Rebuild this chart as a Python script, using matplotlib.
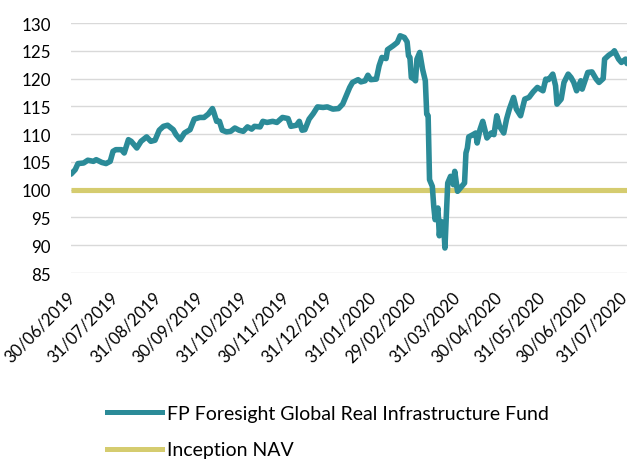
import matplotlib
matplotlib.use("Agg")
import matplotlib.pyplot as plt
import matplotlib.transforms as mtransforms
from matplotlib.lines import Line2D
import pandas as pd

# ---- data ----
fund_dates = [
    "2019-06-30", "2019-07-03", "2019-07-05", "2019-07-09", "2019-07-12", "2019-07-16",
    "2019-07-18", "2019-07-22", "2019-07-25", "2019-07-28", "2019-07-30", "2019-08-01",
    "2019-08-05", "2019-08-07", "2019-08-10", "2019-08-12", "2019-08-16", "2019-08-19",
    "2019-08-23", "2019-08-26", "2019-08-29", "2019-09-01", "2019-09-04", "2019-09-07",
    "2019-09-11", "2019-09-13", "2019-09-16", "2019-09-19", "2019-09-23", "2019-09-26",
    "2019-09-30", "2019-10-03", "2019-10-06", "2019-10-09", "2019-10-10", "2019-10-12",
    "2019-10-14", "2019-10-16", "2019-10-19", "2019-10-22", "2019-10-25", "2019-10-28",
    "2019-10-31", "2019-11-03", "2019-11-06", "2019-11-08", "2019-11-12", "2019-11-14",
    "2019-11-17", "2019-11-21", "2019-11-24", "2019-11-28", "2019-12-02", "2019-12-04",
    "2019-12-08", "2019-12-10", "2019-12-12", "2019-12-14", "2019-12-17", "2019-12-20",
    "2019-12-23", "2019-12-27", "2019-12-30", "2020-01-03", "2020-01-07", "2020-01-10",
    "2020-01-12", "2020-01-15", "2020-01-17", "2020-01-21", "2020-01-23", "2020-01-26",
    "2020-01-28", "2020-01-30", "2020-02-03", "2020-02-05", "2020-02-07", "2020-02-10",
    "2020-02-11", "2020-02-15", "2020-02-18", "2020-02-20", "2020-02-23", "2020-02-25",
    "2020-02-26", "2020-02-27", "2020-02-28", "2020-03-01", "2020-03-02", "2020-03-03",
    "2020-03-05", "2020-03-07", "2020-03-09", "2020-03-10", "2020-03-11", "2020-03-12",
    "2020-03-14", "2020-03-15", "2020-03-16", "2020-03-18", "2020-03-19", "2020-03-20",
    "2020-03-22", "2020-03-23", "2020-03-25", "2020-03-27", "2020-03-29", "2020-03-30",
    "2020-04-01", "2020-04-04", "2020-04-06", "2020-04-07", "2020-04-08", "2020-04-09",
    "2020-04-12", "2020-04-14", "2020-04-15", "2020-04-17", "2020-04-19", "2020-04-22",
    "2020-04-25", "2020-04-27", "2020-04-29", "2020-05-01", "2020-05-04", "2020-05-06",
    "2020-05-08", "2020-05-11", "2020-05-13", "2020-05-16", "2020-05-19", "2020-05-22",
    "2020-05-25", "2020-05-28", "2020-06-01", "2020-06-03", "2020-06-05", "2020-06-08",
    "2020-06-10", "2020-06-11", "2020-06-14", "2020-06-16", "2020-06-19", "2020-06-21",
    "2020-06-23", "2020-06-25", "2020-06-28", "2020-06-29", "2020-07-03", "2020-07-06",
    "2020-07-09", "2020-07-11", "2020-07-14", "2020-07-15", "2020-07-18", "2020-07-21",
    "2020-07-22", "2020-07-25", "2020-07-27", "2020-07-30", "2020-07-31",
]
fund_values = [
    102.8, 103.6, 104.7, 104.8, 105.3, 105.1,
    105.4, 104.9, 104.7, 105.1, 106.9, 107.2,
    107.2, 106.6, 109.0, 108.7, 107.5, 108.7,
    109.5, 108.7, 108.9, 110.7, 111.4, 111.6,
    110.8, 109.9, 109.0, 110.2, 110.8, 112.7,
    113.0, 113.0, 113.6, 114.6, 113.9, 112.3,
    112.3, 110.7, 110.4, 110.5, 111.1, 110.7,
    110.5, 111.3, 110.9, 111.4, 111.3, 112.3,
    112.1, 112.3, 112.1, 113.0, 112.8, 111.4,
    111.6, 112.3, 110.7, 110.8, 112.7, 113.7,
    114.9, 114.8, 114.9, 114.5, 114.6, 115.4,
    116.6, 118.4, 119.3, 119.8, 119.4, 119.6,
    120.6, 119.8, 119.9, 122.3, 123.8, 123.6,
    125.2, 125.9, 126.5, 127.7, 127.4, 126.6,
    124.1, 123.8, 120.2, 119.9, 119.6, 123.5,
    124.7, 121.7, 119.6, 113.6, 113.3, 101.8,
    100.6, 97.0, 94.6, 96.7, 91.7, 94.3,
    94.0, 89.5, 101.2, 102.4, 100.9, 103.3,
    99.7, 100.6, 101.2, 106.6, 107.5, 109.5,
    109.9, 110.2, 108.4, 110.8, 112.3, 109.3,
    110.2, 109.9, 113.3, 111.4, 110.2, 112.7,
    114.5, 116.6, 114.5, 113.3, 116.3, 116.6,
    117.6, 118.4, 117.8, 119.9, 119.8, 120.8,
    118.7, 115.4, 116.3, 119.3, 120.8, 120.2,
    119.3, 117.8, 119.6, 118.1, 121.1, 121.2,
    119.9, 119.3, 120.0, 123.5, 124.2, 124.7,
    125.0, 123.5, 122.9, 123.5, 122.7,
]
inception_nav = 100
tick_dates = [
    "2019-06-30", "2019-07-31", "2019-08-31", "2019-09-30", "2019-10-31", "2019-11-30",
    "2019-12-31", "2020-01-31", "2020-02-29", "2020-03-31", "2020-04-30", "2020-05-31",
    "2020-06-30", "2020-07-31",
]
y_ticks = [85, 90, 95, 100, 105, 110, 115, 120, 125, 130]
fund_label = "FP Foresight Global Real Infrastructure Fund"
nav_label = "Inception NAV"

# ---- style ----
FONT = "Lato"
TICK_FS = 12.0
LEG_FS = 14
TEAL = "#2b8b98"
GOLD = "#d5cc6f"

plt.rcParams["font.family"] = [FONT, "DejaVu Sans"]

fig = plt.figure(figsize=(6.31, 4.64), dpi=100)
ax = fig.add_axes([71 / 631, 1 - 274 / 464, 556 / 631, 250 / 464])

x = pd.to_datetime(fund_dates)
ticks = pd.to_datetime(tick_dates)

ax.axhline(inception_nav, color=GOLD, lw=3.7, solid_capstyle="butt", zorder=2)
ax.plot(x, fund_values, color=TEAL, lw=4.0, solid_joinstyle="round",
        solid_capstyle="round", zorder=3)

ax.set_xlim(ticks[0], ticks[-1])
ax.set_ylim(85, 130)
ax.set_yticks(y_ticks)
ax.set_xticks(ticks)
ax.set_xticklabels([d.strftime("%d/%m/%Y") for d in ticks])
ax.grid(axis="y", color="#d9d9d9", lw=1.0, zorder=0)
ax.grid(axis="x", visible=False)
ax.set_axisbelow(True)
for s in ax.spines.values():
    s.set_visible(False)

ax.tick_params(axis="y", length=0, pad=14.5, labelsize=12.2, labelcolor="#000000")
ax.tick_params(axis="x", length=0, pad=15, labelsize=TICK_FS, labelcolor="#000000")
xlabels = ax.get_xticklabels()
for i, lbl in enumerate(xlabels):
    dx = 1 if i < len(xlabels) - 1 else -3
    shift = mtransforms.ScaledTranslation(dx / 100, 0, fig.dpi_scale_trans)
    lbl.set_rotation(45)
    lbl.set_ha("right")
    lbl.set_va("center")
    lbl.set_rotation_mode("anchor")
    lbl.set_transform(lbl.get_transform() + shift)

handles = [Line2D([], [], color=TEAL, lw=3.6),
           Line2D([], [], color=GOLD, lw=3.6)]
fig.legend(handles, [fund_label, nav_label], loc="upper left",
           bbox_to_anchor=(107 / 631, 1 - 406 / 464), frameon=False,
           fontsize=LEG_FS, handlelength=2.85, handletextpad=0.25,
           labelspacing=1.0, borderpad=0, borderaxespad=0)

fig.savefig("out.png", dpi=100)
